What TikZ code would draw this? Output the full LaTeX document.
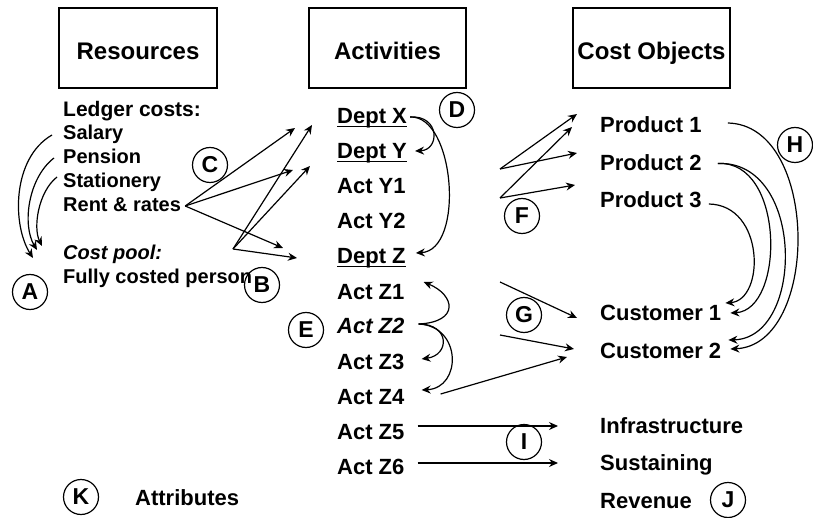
\documentclass[tikz,border=0pt]{standalone}
\usepackage{fontspec}
\setmainfont{Liberation Sans}
\usetikzlibrary{arrows.meta}
\begin{document}
\begin{tikzpicture}[x=1pt,y=-1pt,
  hdr/.style={draw, line width=1.3pt, minimum width=157pt, minimum height=80pt,
    inner sep=0pt, font=\fontsize{24}{28}\selectfont\bfseries,
    text height=23pt, text depth=0pt},
  src/.style={anchor=base west, inner sep=0pt, font=\fontsize{20}{24}\selectfont\bfseries},
  itm/.style={anchor=base west, inner sep=0pt, font=\fontsize{22}{26}\selectfont\bfseries},
  tag/.style={circle, draw, line width=1.2pt, minimum size=35pt, inner sep=0pt,
    font=\fontsize{23}{27}\selectfont\bfseries},
  link/.style={line width=1.2pt, -{Stealth[length=9pt,width=8pt,inset=3pt]}},
  uline/.style={line width=1.8pt}
]
\useasboundingbox (0,0) rectangle (813,518);

% column headers
\node[hdr, minimum width=158pt] (res) at (138,48) {Resources};
\node[hdr] (act) at (387.5,48) {Activities};
\node[hdr] (cob) at (651.5,48) {Cost Objects};

% resources column
\node[src, font=\fontsize{21}{25}\selectfont\bfseries] (ledger) at (63,117) {Ledger costs:};
\node[src] (salary) at (63,140) {Salary};
\node[src] (pension) at (63,164) {Pension};
\node[src] (stat) at (63,188) {Stationery};
\node[src] (rent) at (63,212) {Rent \& rates};
\node[src] (pool) at (63,260) {\itshape Cost pool:};
\node[src] (person) at (63,284) {Fully costed person};

% activities column
\node[itm] (dx) at (337,124) {Dept X};
\node[itm] (dy) at (337,159) {Dept Y};
\node[itm] (y1) at (337,194) {Act Y1};
\node[itm] (y2) at (337,229) {Act Y2};
\node[itm] (dz) at (337,264) {Dept Z};
\node[itm] (z1) at (337,299) {Act Z1};
\node[itm] (z2) at (337,334) {\itshape Act Z2};
\node[itm] (z3) at (337,369) {Act Z3};
\node[itm] (z4) at (337,404) {Act Z4};
\node[itm] (z5) at (337,439) {Act Z5};
\node[itm] (z6) at (337,474) {Act Z6};
\foreach \d in {dx,dy,dz}
  \draw[uline] ([shift={(0,2.5)}]\d.base west) -- ([shift={(0,2.5)}]\d.base east);

% cost objects column
\node[itm] (p1) at (600,133) {Product 1};
\node[itm] (p2) at (600,170.5) {Product 2};
\node[itm] (p3) at (600,208) {Product 3};
\node[itm] (c1) at (600,320.5) {Customer 1};
\node[itm] (c2) at (600,358) {Customer 2};
\node[itm] (infra) at (600,433) {Infrastructure};
\node[itm] (sust) at (600,470.5) {Sustaining};
\node[itm] (rev) at (600,508) {Revenue};

\node[itm] (attr) at (135,505) {Attributes};

% ledger costs gathered into the cost pool
\draw[link] ([shift={(-11,-5)}]salary.base west) .. controls (12,158) and (12,225) .. ([shift={(-30,-2)}]pool.base west);
\draw[link] ([shift={(-9,-6)}]pension.base west) .. controls (28,178) and (22,225) .. ([shift={(-26,-10)}]pool.base west);
\draw[link] ([shift={(-6,-11)}]stat.base west) .. controls (38,192) and (33,228) .. ([shift={(-21,-14)}]pool.base west);

% resources to departments
\coordinate (knot) at (233,249);
\draw[link] ([shift={(4,-6)}]rent.base east) -- ([shift={(-42,4)}]dx.base west);
\draw[link] ([shift={(4,-6)}]rent.base east) -- ([shift={(-44,11)}]dy.base west);
\draw[link] ([shift={(4,-6)}]rent.base east) -- ([shift={(-54,-16)}]dz.base west);
\draw[link] (knot) -- ([shift={(-25,1)}]dx.base west);
\draw[link] (knot) -- ([shift={(-27,7)}]dy.base west);
\draw[link] (knot) -- ([shift={(-40,-6)}]dz.base west);

% department to department
\draw[link] ([shift={(3,-7)}]dx.base east) .. controls (440,115) and (440,150) .. ([shift={(8,-8)}]dy.base east);
\draw[link] ([shift={(3,-7)}]dx.base east) .. controls (455,115) and (465,250) .. ([shift={(10,-11)}]dz.base east);

% activity to activity
\draw[link] ([shift={(14,-10)}]z2.base east) .. controls (460,322) and (455,295) .. ([shift={(19,-17)}]z1.base east);
\draw[link] ([shift={(14,-10)}]z2.base east) .. controls (450,324) and (450,355) .. ([shift={(17,-10)}]z3.base east);
\draw[link] ([shift={(14,-10)}]z2.base east) .. controls (462,326) and (462,388) .. ([shift={(17,-14)}]z4.base east);

% activities to products
\coordinate (fa) at (500,169);
\coordinate (fb) at (500,198);
\draw[link] (fa) -- ([shift={(-23,-19)}]p1.base west);
\draw[link] (fa) -- ([shift={(-23,-17.5)}]p2.base west);
\draw[link] (fb) -- ([shift={(-28,-6)}]p1.base west);
\draw[link] (fb) -- ([shift={(-25,-23)}]p3.base west);

% activities to customers
\coordinate (ga) at (500,282);
\coordinate (gb) at (500,335);
\draw[link] (ga) -- ([shift={(-23,-2.5)}]c1.base west);
\draw[link] (gb) -- ([shift={(-26,-9)}]c2.base west);
\draw[link] ([shift={(36,-10)}]z4.base east) -- ([shift={(-33,-1)}]c2.base west);

% products to customers
\draw[link] ([shift={(26,-10)}]p1.base east) .. controls (820,125) and (820,345) .. ([shift={(9,-9)}]c2.base east);
\draw[link] ([shift={(16,-7)}]p2.base east) .. controls (785,160) and (785,310) .. ([shift={(9,-7.5)}]c1.base east);
\draw[link] ([shift={(16,-7)}]p2.base east) .. controls (805,160) and (805,338) .. ([shift={(7,-18)}]c2.base east);
\draw[link] ([shift={(7,-4)}]p3.base east) .. controls (765,205) and (765,300) .. ([shift={(4,-17.5)}]c1.base east);

% activities to infrastructure and sustaining
\draw[link] ([shift={(13,-13)}]z5.base east) -- ([shift={(-42,-7)}]infra.base west);
\draw[link] ([shift={(13,-11)}]z6.base east) -- ([shift={(-42,-7.5)}]sust.base west);

% circled letters
\node[tag] (ta) at (30,292) {A};
\node[tag] (tb) at (262,285) {B};
\node[tag] (tc) at (210,165) {C};
\node[tag] (td) at (457,110) {D};
\node[tag] (te) at (306,330) {E};
\node[tag] (tf) at (522,216) {F};
\node[tag] (tg) at (524,315) {G};
\node[tag] (th) at (795,145) {H};
\node[tag] (ti) at (524,442) {I};
\node[tag] (tj) at (728,500) {J};
\node[tag] (tk) at (81,497) {K};
\end{tikzpicture}
\end{document}
